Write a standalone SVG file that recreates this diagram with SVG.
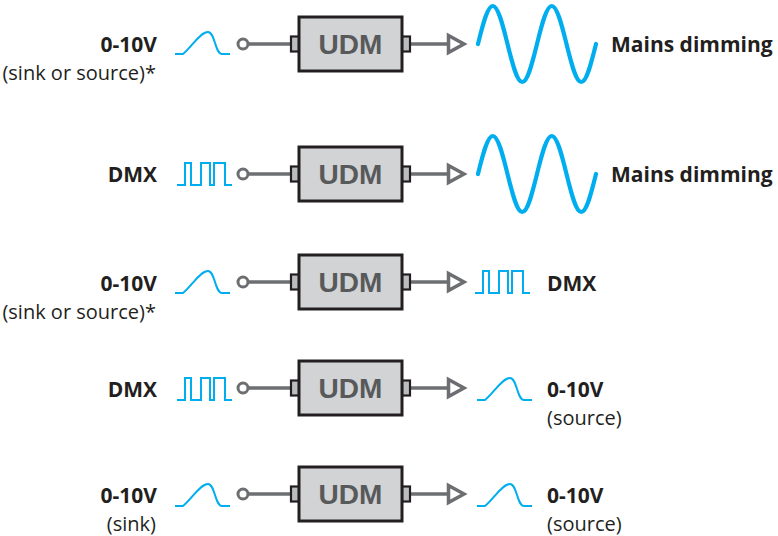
<svg xmlns="http://www.w3.org/2000/svg" xmlns:xlink="http://www.w3.org/1999/xlink" width="778" height="536" viewBox="0 0 778 536">
<style>
.box{fill:#d2d3d5;stroke:#231f20;stroke-width:3}
.tab{fill:#bcbdc0;stroke:#231f20;stroke-width:2.2}
.udm{font-family:"Liberation Sans",Arial,sans-serif;font-weight:bold;font-size:28px;fill:#58595b;text-anchor:middle}
.wire{stroke:#6d6e71;stroke-width:3.5;fill:none}
.term{stroke:#6d6e71;stroke-width:3;fill:#fff}
.arr{stroke:#6d6e71;stroke-width:3.5;fill:#fff;stroke-linejoin:miter}
.sig{stroke:#00aeef;stroke-width:2;fill:none}
.sine{stroke:#00aeef;stroke-width:4.2;fill:none;stroke-linecap:round}
.lb{font-family:"Open Sans","Noto Sans",sans-serif;font-weight:bold;font-size:21px;fill:#231f20}
.lr{font-family:"Open Sans","Noto Sans",sans-serif;font-size:20px;fill:#231f20}
.r{text-anchor:end}
</style>
<defs>
<path id="ramp" d="M0,11 L8,11 C16,5 25,-11 33,-11 C40,-11 40,11 47,11 L55,11"/>
<path id="dmx" d="M0,11 H8 V-11 H14 V11 H24 V-11 H33 V11 H37 V-11 H48 V11 H55"/>
<path id="sinew" d="M0,0 C4.93,-19.95 9.44,-38 14.75,-38 C20.06,-38 24.57,-19.95 29.5,0 C34.43,19.95 38.94,38 44.25,38 C49.56,38 54.07,19.95 59,0 C63.93,-19.95 68.44,-38 73.75,-38 C79.06,-38 83.57,-19.95 88.5,0 C93.43,19.95 97.94,38 103.25,38 C108.56,38 113.07,19.95 118,0"/>
<g id="unit">
<line class="wire" x1="248" y1="0" x2="292" y2="0"/>
<circle class="term" cx="243" cy="0" r="5"/>
<line class="wire" x1="408" y1="0" x2="450" y2="0"/>
<path class="arr" d="M448.5,-8.5 L464,0 L448.5,8.5 Z"/>
<rect class="tab" x="291" y="-7.5" width="8" height="15"/>
<rect class="tab" x="402" y="-7.5" width="8" height="15"/>
<rect class="box" x="299" y="-27" width="103" height="54"/>
<text class="udm" x="350.5" y="10">UDM</text>
</g>
</defs>
<g id="connectors">
<use xlink:href="#ramp" class="sig" transform="translate(175,43)"/>
<use xlink:href="#sinew" class="sine" transform="translate(478,44)"/>
<use xlink:href="#dmx" class="sig" transform="translate(177,174)"/>
<use xlink:href="#sinew" class="sine" transform="translate(478,174)"/>
<use xlink:href="#ramp" class="sig" transform="translate(175,282)"/>
<use xlink:href="#dmx" class="sig" transform="translate(475,282)"/>
<use xlink:href="#dmx" class="sig" transform="translate(177,389)"/>
<use xlink:href="#ramp" class="sig" transform="translate(477,389)"/>
<use xlink:href="#ramp" class="sig" transform="translate(175,495)"/>
<use xlink:href="#ramp" class="sig" transform="translate(477,495)"/>
</g>
<g id="udm1"><use xlink:href="#unit" transform="translate(0,44)"/></g>
<g id="udm2"><use xlink:href="#unit" transform="translate(0,174)"/></g>
<g id="udm3"><use xlink:href="#unit" transform="translate(0,282)"/></g>
<g id="udm4"><use xlink:href="#unit" transform="translate(0,388)"/></g>
<g id="udm5"><use xlink:href="#unit" transform="translate(0,494)"/></g>
<g id="labels">
<text class="lb r" x="157" y="52">0-10V</text>
<text class="lr r" x="156" y="80">(sink or source)*</text>
<text class="lb" x="611" y="52">Mains dimming</text>
<text class="lb r" x="157" y="182">DMX</text>
<text class="lb" x="611" y="182">Mains dimming</text>
<text class="lb r" x="157" y="291">0-10V</text>
<text class="lr r" x="156" y="319">(sink or source)*</text>
<text class="lb" x="547" y="291">DMX</text>
<text class="lb r" x="157" y="397">DMX</text>
<text class="lb" x="547" y="397">0-10V</text>
<text class="lr" x="547" y="425">(source)</text>
<text class="lb r" x="157" y="503">0-10V</text>
<text class="lr r" x="156" y="531">(sink)</text>
<text class="lb" x="547" y="503">0-10V</text>
<text class="lr" x="547" y="531">(source)</text>
</g>
</svg>
